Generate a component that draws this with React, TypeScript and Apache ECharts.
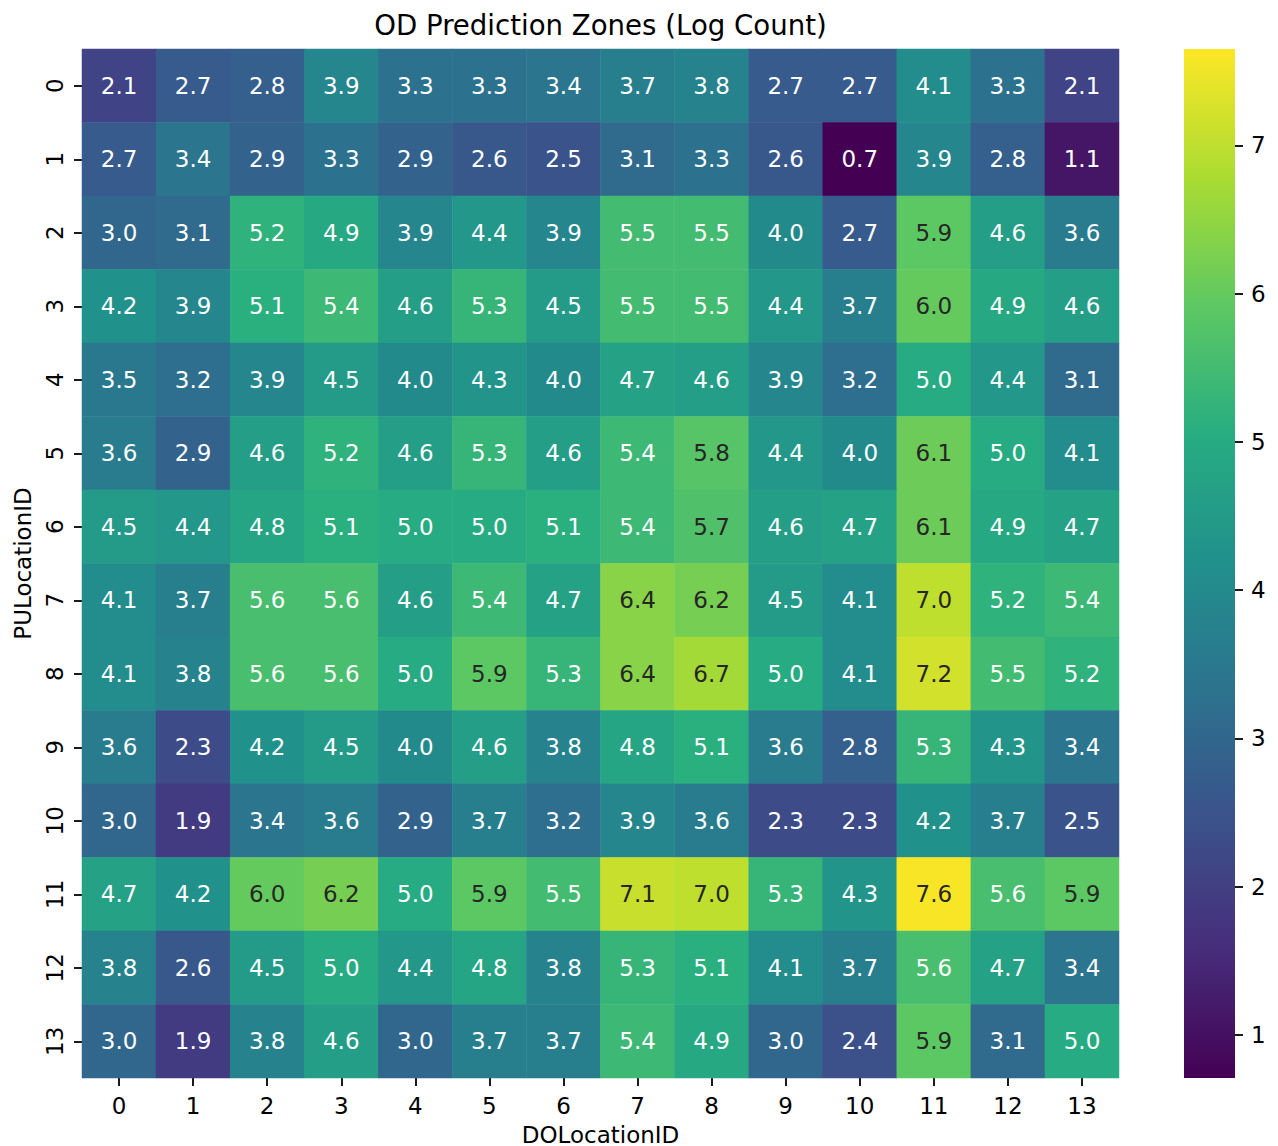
import React, { useEffect, useRef } from "react";
import * as echarts from "echarts";

const doLocations = ["0", "1", "2", "3", "4", "5", "6", "7", "8", "9", "10", "11", "12", "13"];
const puLocations = ["0", "1", "2", "3", "4", "5", "6", "7", "8", "9", "10", "11", "12", "13"];

const pu0 = [2.1, 2.7, 2.8, 3.9, 3.3, 3.3, 3.4, 3.7, 3.8, 2.7, 2.7, 4.1, 3.3, 2.1];
const pu1 = [2.7, 3.4, 2.9, 3.3, 2.9, 2.6, 2.5, 3.1, 3.3, 2.6, 0.7, 3.9, 2.8, 1.1];
const pu2 = [3.0, 3.1, 5.2, 4.9, 3.9, 4.4, 3.9, 5.5, 5.5, 4.0, 2.7, 5.9, 4.6, 3.6];
const pu3 = [4.2, 3.9, 5.1, 5.4, 4.6, 5.3, 4.5, 5.5, 5.5, 4.4, 3.7, 6.0, 4.9, 4.6];
const pu4 = [3.5, 3.2, 3.9, 4.5, 4.0, 4.3, 4.0, 4.7, 4.6, 3.9, 3.2, 5.0, 4.4, 3.1];
const pu5 = [3.6, 2.9, 4.6, 5.2, 4.6, 5.3, 4.6, 5.4, 5.8, 4.4, 4.0, 6.1, 5.0, 4.1];
const pu6 = [4.5, 4.4, 4.8, 5.1, 5.0, 5.0, 5.1, 5.4, 5.7, 4.6, 4.7, 6.1, 4.9, 4.7];
const pu7 = [4.1, 3.7, 5.6, 5.6, 4.6, 5.4, 4.7, 6.4, 6.2, 4.5, 4.1, 7.0, 5.2, 5.4];
const pu8 = [4.1, 3.8, 5.6, 5.6, 5.0, 5.9, 5.3, 6.4, 6.7, 5.0, 4.1, 7.2, 5.5, 5.2];
const pu9 = [3.6, 2.3, 4.2, 4.5, 4.0, 4.6, 3.8, 4.8, 5.1, 3.6, 2.8, 5.3, 4.3, 3.4];
const pu10 = [3.0, 1.9, 3.4, 3.6, 2.9, 3.7, 3.2, 3.9, 3.6, 2.3, 2.3, 4.2, 3.7, 2.5];
const pu11 = [4.7, 4.2, 6.0, 6.2, 5.0, 5.9, 5.5, 7.1, 7.0, 5.3, 4.3, 7.6, 5.6, 5.9];
const pu12 = [3.8, 2.6, 4.5, 5.0, 4.4, 4.8, 3.8, 5.3, 5.1, 4.1, 3.7, 5.6, 4.7, 3.4];
const pu13 = [3.0, 1.9, 3.8, 4.6, 3.0, 3.7, 3.7, 5.4, 4.9, 3.0, 2.4, 5.9, 3.1, 5.0];

const matrix = [pu0, pu1, pu2, pu3, pu4, pu5, pu6, pu7, pu8, pu9, pu10, pu11, pu12, pu13];

const colorbarTicks = [1, 2, 3, 4, 5, 6, 7];
const scaleMin = 0.71;
const scaleMax = 7.65;

const viridis = ["#440154", "#472D7B", "#3B528B", "#2C728E", "#21908C", "#27AD81", "#5DC863", "#AADC32", "#FDE725"];

const FONT = "DejaVu Sans";

export default function App() {
  const ref = useRef<HTMLDivElement>(null);

  useEffect(() => {
    if (!ref.current) return;
    const chart = echarts.init(ref.current, undefined, { renderer: "svg" });

    const data: any[] = [];
    matrix.forEach((row, i) => {
      row.forEach((v, j) => {
        data.push({
          value: [j, i, v],
          label: { color: v >= 5.65 ? "#262626" : "#ffffff" },
        });
      });
    });

    const gridLeft = 82;
    const gridTop = 49;
    const gridW = 1037;
    const gridH = 1029;
    const cbLeft = 1184;
    const cbW = 51;

    const option: any = {
      animation: false,
      backgroundColor: "#ffffff",
      textStyle: { fontFamily: FONT },
      grid: [
        { left: gridLeft, top: gridTop, width: gridW, height: gridH, outerBoundsMode: "none" },
        { left: cbLeft, top: gridTop, width: cbW, height: gridH, outerBoundsMode: "none" },
      ],
      xAxis: [
        {
          gridIndex: 0,
          type: "category",
          data: doLocations,
          position: "bottom",
          axisLine: { show: false },
          axisTick: { show: true, alignWithLabel: true, length: 8, lineStyle: { color: "#000", width: 1.8 } },
          axisLabel: { fontSize: 23, color: "#000", margin: 16, fontFamily: FONT },
          splitLine: { show: false },
          name: "DOLocationID",
          nameLocation: "middle",
          nameGap: 45,
          nameTextStyle: { fontSize: 23, color: "#000", fontFamily: FONT },
        },
        {
          gridIndex: 1,
          type: "value",
          show: false,
          min: 0,
          max: 1,
        },
      ],
      yAxis: [
        {
          gridIndex: 0,
          type: "category",
          data: puLocations,
          inverse: true,
          axisLine: { show: false },
          axisTick: { show: true, alignWithLabel: true, length: 8, lineStyle: { color: "#000", width: 1.8 } },
          axisLabel: { fontSize: 23, color: "#000", margin: 16, rotate: 90, fontFamily: FONT },
          splitLine: { show: false },
          name: "PULocationID",
          nameLocation: "middle",
          nameRotate: 90,
          nameGap: 48,
          nameTextStyle: { fontSize: 23, color: "#000", fontFamily: FONT },
        },
        {
          gridIndex: 1,
          type: "value",
          position: "right",
          min: scaleMin,
          max: scaleMax,
          axisLine: { show: false, onZero: false },
          axisTick: { show: true, inside: false, length: 8, customValues: colorbarTicks, lineStyle: { color: "#000", width: 1.8 } },
          axisLabel: { fontSize: 23, color: "#000", margin: 16, customValues: colorbarTicks, fontFamily: FONT },
          splitLine: { show: false },
        },
      ],
      visualMap: {
        type: "continuous",
        show: false,
        min: scaleMin,
        max: scaleMax,
        dimension: 2,
        seriesIndex: 0,
        inRange: { color: viridis },
      },
      graphic: [
        {
          type: "text",
          x: gridLeft + gridW / 2,
          y: 25,
          style: {
            text: "OD Prediction Zones (Log Count)",
            fontSize: 27.6,
            fontFamily: FONT,
            fill: "#000",
            textAlign: "center",
            textVerticalAlign: "middle",
          },
        },
        {
          type: "rect",
          z: -1,
          shape: { x: cbLeft, y: gridTop, width: cbW, height: gridH },
          style: {
            fill: {
              type: "linear",
              x: 0,
              y: 1,
              x2: 0,
              y2: 0,
              colorStops: viridis.map((c, k) => ({ offset: k / (viridis.length - 1), color: c })),
            },
          },
        },
      ],
      series: [
        {
          type: "heatmap",
          xAxisIndex: 0,
          yAxisIndex: 0,
          data,
          itemStyle: { borderWidth: 0 },
          label: {
            show: true,
            fontSize: 23,
            fontFamily: FONT,
            formatter: (p: any) => Number(p.value[2]).toFixed(1),
          },
          emphasis: { disabled: true },
        },
      ],
    };

    chart.setOption(option);
    return () => chart.dispose();
  }, []);

  return (
    <div
      ref={ref}
      style={{ position: "fixed", left: 0, top: 0, width: 1278, height: 1146 }}
    />
  );
}
